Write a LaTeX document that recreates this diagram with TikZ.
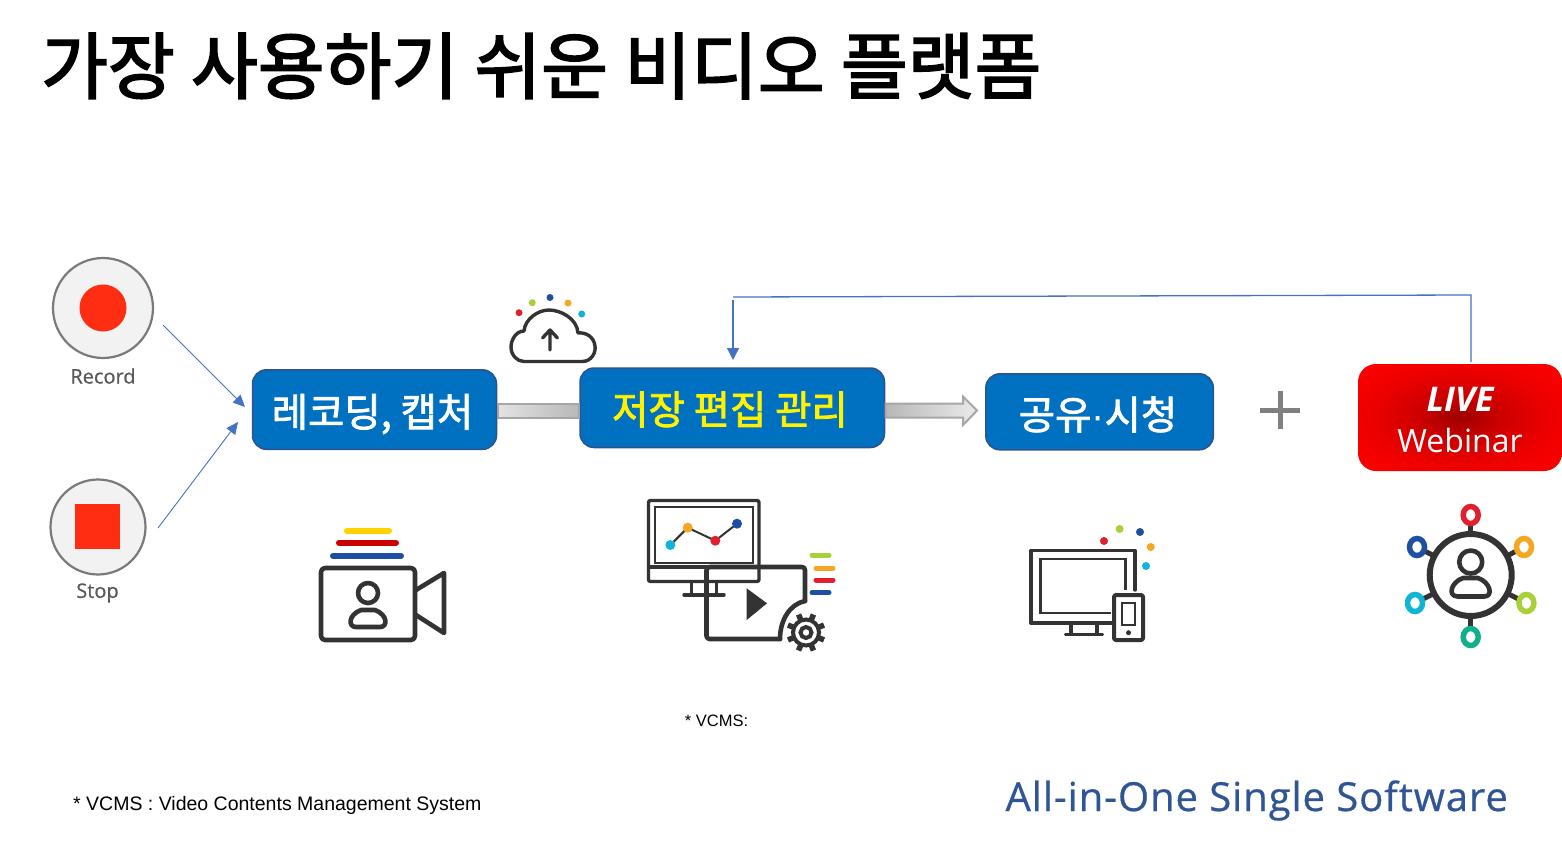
\documentclass[tikz,border=0pt]{standalone}
\usepackage{fontspec}
\setmainfont{Liberation Sans}
\newfontfamily\krmed[FakeBold=2.4]{Noto Sans CJK KR}
\newfontfamily\krbox[FakeBold=2]{Noto Sans CJK KR}
\newfontfamily\opens{Open Sans}
\newfontfamily\opensb[FakeBold=0.8]{Open Sans}
\newfontfamily\opensf[LetterSpace=2.3,FakeBold=0.6]{Open Sans}
\usetikzlibrary{arrows.meta,calc}
\definecolor{boxblue}{HTML}{0070C0}
\definecolor{boxedge}{HTML}{2F528F}
\definecolor{linkblue}{HTML}{4472C4}
\definecolor{ink}{HTML}{333333}
\definecolor{recred}{HTML}{FF2E12}
\definecolor{dred}{HTML}{E0202E}
\definecolor{dgreen}{HTML}{A8D038}
\definecolor{dblue}{HTML}{1F4FA0}
\definecolor{dorange}{HTML}{F5A623}
\definecolor{dcyan}{HTML}{10B4D4}
\definecolor{dteal}{HTML}{10B08C}
\definecolor{dyellow}{HTML}{FFD200}
\definecolor{footblue}{HTML}{2F5597}
\definecolor{pipeedge}{HTML}{A6A6A6}
\pgfdeclareradialshading{liveshade}{\pgfpoint{0bp}{0bp}}{color(0bp)=(red!62!black); color(10bp)=(red!80!black); color(22bp)=(red!93!black); color(36bp)=(red); color(50bp)=(red)}
\tikzset{
  x=1pt,y=-1pt,
  flow/.style={rounded corners=14pt,fill=boxblue,draw=boxedge,line width=1.5pt,inner sep=0pt,outer sep=0pt,anchor=north west,align=center},
  boxtext/.style={font=\krbox\fontsize{39.5}{44}\selectfont,text=white},
  link/.style={draw=linkblue,line width=1.3pt},
  thin link/.style={draw=linkblue,line width=0.9pt,-{Triangle[length=12pt,width=11pt]}},
  ico/.style={draw=ink,line width=4.6pt,line cap=round,line join=round},
  icothin/.style={draw=ink,line width=3.4pt,line cap=round,line join=round},
  bar/.style={line width=6pt,line cap=round},
  ring/.style={line width=5.5pt},
  pipe/.style={draw=pipeedge,line width=2pt},
  ctrl/.style={circle,draw=black!52,line width=2.2pt,fill=black!5,inner sep=0pt},
  caplabel/.style={font=\opensb\fontsize{20}{24}\selectfont,text=black!65},
}
\begin{document}
\begin{tikzpicture}
\useasboundingbox (0,0) rectangle (1562,843);
% title
\node[anchor=west,inner sep=0pt,font=\krmed\fontsize{72.6}{80}\selectfont] (title) at (41,66) {가장 사용하기 쉬운 비디오 플랫폼};

% boxes and block arrows
\node[flow,minimum width=244pt,minimum height=79.5pt] (rec) at (252.5,369.8) {};
\node[flow,minimum width=304.5pt,minimum height=79.5pt] (mgmt) at (580,368) {};
\node[flow,minimum width=227.5pt,minimum height=76pt] (share) at (985.8,373.8) {};
\coordinate (pipeA) at (0,403.5);
\coordinate (pipeB) at (0,417.5);
\path[pipe,left color=black!11,right color=black!28] ([xshift=1pt]rec.east |- pipeA) rectangle ([xshift=-1pt]mgmt.west |- pipeB);
\coordinate (headtip) at (977,410.5);
\path[pipe,left color=black!28,right color=black!8] ([xshift=1pt]mgmt.east |- pipeA) -- (963,403.5) -- (963,396.5) -- (headtip) -- (963,425) -- (963,417.5) -- ([xshift=1pt]mgmt.east |- pipeB) -- cycle;
\node[boxtext,inner sep=0pt] (rect) at (372.5,414) {레코딩, 캡처};
\node[boxtext,inner sep=0pt,text=yellow] (mgmtt) at (730,409.5) {저장 편집 관리};
\node[boxtext,inner sep=0pt] (sharet) at (1098,414.5) {공유{\rmfamily·}시청};

% live
\node[rounded corners=18pt,minimum width=204pt,minimum height=107pt,inner sep=0pt,outer sep=0pt,anchor=north west,shading=liveshade] (live) at (1358,364) {};
\node[inner sep=0pt,text=white,font=\opens\bfseries\itshape\fontsize{34}{36}\selectfont] (livet) at (1460,399) {LIVE};
\node[inner sep=0pt,text=white,font=\opens\fontsize{32}{36}\selectfont] (webt) at (1460,440) {Webinar};

% feedback
\coordinate (fbA) at (1471,295);
\coordinate (fbB) at (733,297);
\coordinate (fbC) at (733,300);
\coordinate (fbD) at (733,360);
\draw[link] ($(live.north west)+(113,-2)$) -- (fbA) -- (fbB);
\draw[link,-{Triangle[length=12pt,width=12pt]}] (fbC) -- (fbD);

% plus
\coordinate (plusc) at (1280,410);
\draw[draw=black!50,line width=5pt] ($(plusc)+(-20,0)$) -- ($(plusc)+(20,0)$) ($(plusc)+(0,-19)$) -- ($(plusc)+(0,19)$);

% record / stop
\node[ctrl,minimum size=100pt] (recb) at (103,308) {};
\node[circle,fill=recred,minimum size=47pt,inner sep=0pt] (recd) at (103,308) {};
\node[caplabel,inner sep=0pt] (recl) at (103,376) {Record};
\node[ctrl,minimum size=95pt] (stob) at (98,527) {};
\node[fill=recred,minimum size=45pt,inner sep=0pt] (stod) at (97.5,526.5) {};
\node[caplabel,inner sep=0pt] (stol) at (97.5,593) {Stop};
\coordinate (r1) at (163,325); \coordinate (r2) at (245,407);
\coordinate (s1) at (158,528); \coordinate (s2) at (238,422);
\draw[thin link] (r1) -- (r2);
\draw[thin link] (s1) -- (s2);

% cloud
\draw[icothin] (524,361.5) -- (582,361.5) .. controls (592,361.5) and (596,352) .. (595,346) .. controls (594,337) and (586,332) .. (578,333) .. controls (577,318) and (560,310) .. (549,310) .. controls (538,310) and (525,319) .. (524,331) .. controls (516,331) and (511,340) .. (511,347) .. controls (511,355) and (517,361.5) .. (524,361.5) -- cycle;
\draw[icothin] (550,350) -- (550,330) (542.5,338) -- (550,330) -- (557.5,338);
\fill[dred] (519,312.7) circle (3.5);
\fill[dgreen] (532.3,302.7) circle (3.5);
\fill[dblue] (550,297.5) circle (3.5);
\fill[dorange] (568,303) circle (3.5);
\fill[dcyan] (581.7,314) circle (3.5);

% camera icon
\draw[bar,dyellow] (347,530.7) -- (389,530.7);
\draw[bar,red!80!black] (339,542.7) -- (396,542.7);
\draw[bar,dblue] (333,555.7) -- (401,555.7);
\draw[ico,rounded corners=4pt] (321,568) rectangle (415,640);
\draw[ico] (368,593) circle (10);
\draw[ico] (356,627) -- (380,627) .. controls (388,627) and (388,615) .. (375,610) -- (361,610) .. controls (348,615) and (348,627) .. (356,627) -- cycle;
\draw[ico] (416,590) -- (444,573) -- (444,633) -- (416,615);

% analytics icon
\draw[icothin,rounded corners=2pt] (648.5,500.5) rectangle (759,581.5);
\draw[draw=ink,line width=2pt] (655,506.5) rectangle (753,562.5);
\draw[icothin] (649,567) -- (759,567);
\draw[icothin] (691.5,582) -- (691.5,595) (716.5,582) -- (716.5,595) (684,595) -- (724,595);
\draw[draw=ink,line width=2pt] (670.3,545) -- (687.7,527.7) -- (715.3,540.7) -- (737,523.7);
\fill[dcyan] (670.3,545) circle (5);
\fill[dorange] (687.7,527.7) circle (5);
\fill[dred] (715.3,540.7) circle (5);
\fill[dblue] (737,523.7) circle (5);
\draw[ico,rounded corners=3pt] (780,639) -- (706.5,639) -- (706.5,567) -- (805,567) -- (805,601) ;
\draw[ico] (805,601) .. controls (790,604) and (780,620) .. (780,639);
\fill[ink] (746.7,588.3) -- (767,603.3) -- (746.7,620) -- cycle;
\coordinate (gearc) at (806,632.5);
\fill[white] (gearc) circle (20);
\draw[draw=ink,line width=4pt] (gearc) circle (13);
\draw[draw=ink,line width=4pt] (gearc) circle (5.5);
\foreach \a in {0,45,...,315}{\draw[draw=ink,line width=5.5pt] ($(gearc)+(\a+22.5:12)$) -- ($(gearc)+(\a+22.5:19.5)$);}
\draw[bar,dgreen,line width=5pt] (812,555) -- (829,555);
\draw[bar,dorange,line width=5pt] (816,568.3) -- (833,568.3);
\draw[bar,dred,line width=5pt] (816,580) -- (833,580);
\draw[bar,dblue,line width=5pt] (812,592.7) -- (829,592.7);

% share icon
\draw[icothin] (1135,590) -- (1135,550.5) -- (1031,550.5) -- (1031,623) -- (1112,623);
\draw[draw=ink,line width=2.5pt] (1125.5,590) -- (1125.5,559) -- (1040.5,559) -- (1040.5,613) -- (1111,613);
\draw[icothin] (1071,624) -- (1071,634) (1097,624) -- (1097,634) (1065.5,634.5) -- (1102.5,634.5);
\draw[ico,line width=4pt,rounded corners=2pt] (1114,595) rectangle (1143,640);
\draw[draw=ink,line width=2.5pt] (1122,603) rectangle (1135,625);
\fill[ink] (1128.5,632.7) circle (2.5);
\fill[dred] (1104,541) circle (4);
\fill[dgreen] (1119.6,529) circle (4);
\fill[dblue] (1140,532) circle (4);
\fill[dorange] (1150.7,547) circle (4);
\fill[dcyan] (1146,566) circle (4);

% network icon
\coordinate (nc) at (1470.7,575);
\foreach \x/\y in {1470.7/515,1417/547,1524/547,1415/603,1526.4/603,1470.7/637}{
  \draw[draw=ink,line width=5pt] (nc) -- (\x,\y);}
\fill[white] (nc) circle (41);
\draw[draw=ink,line width=6pt] (nc) circle (41);
\draw[ico] (1470.7,562) circle (11.5);
\draw[ico] (1458,596.5) -- (1484,596.5) .. controls (1494,596.5) and (1490,582) .. (1478,578) -- (1463,578) .. controls (1451,582) and (1447,596.5) .. (1458,596.5) -- cycle;
\draw[ring,dred,fill=white] (1470.7,515) ellipse (7.5 and 8.5);
\draw[ring,dblue,fill=white] (1417,547) ellipse (7.5 and 8.5);
\draw[ring,dorange,fill=white] (1524,547) ellipse (7.5 and 8.5);
\draw[ring,dcyan,fill=white] (1415,603) ellipse (7.5 and 8.5);
\draw[ring,dgreen,fill=white] (1526.4,603) ellipse (7.5 and 8.5);
\draw[ring,dteal,fill=white] (1470.7,637) ellipse (7.5 and 8.5);

% notes
\node[inner sep=0pt,font=\fontsize{16.5}{18}\selectfont] (vc) at (716.5,721) {* VCMS:};
\node[inner sep=0pt,anchor=west,font=\fontsize{19.5}{22}\selectfont] (note) at (73,805) {* VCMS : Video Contents Management System};
\node[inner sep=0pt,anchor=east,text=footblue,font=\opensf\fontsize{40}{44}\selectfont] (foot) at (1508,800.5) {All-in-One Single Software};
\end{tikzpicture}
\end{document}
